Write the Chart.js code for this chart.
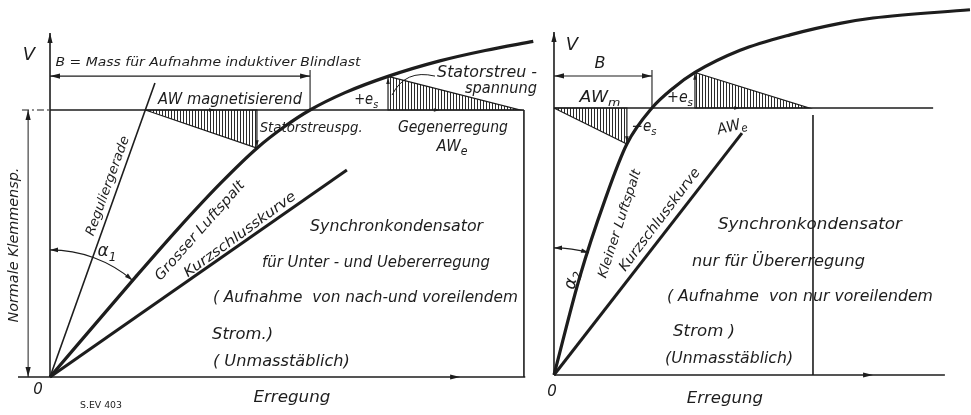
<!DOCTYPE html>
<html>
<head>
<meta charset="utf-8">
<script src="https://cdn.jsdelivr.net/npm/chart.js@4.4.1/dist/chart.umd.min.js"></script>
<style>
  body { margin: 0; background: #fff; }
  #wrap { position: relative; width: 971px; height: 415px; background: #fff; }
  canvas { position: absolute; top: 0; }
</style>
</head>
<body>
<div id="wrap">
  <canvas id="leftChart" width="540" height="415" style="left:0;width:540px;height:415px"></canvas>
  <canvas id="rightChart" width="431" height="415" style="left:540px;width:431px;height:415px"></canvas>
</div>
<script>
// units: Klemmenspannung in % of normal (100), Erregung on the same scale
const normalSpannung = 100;

// left: Grosser Luftspalt
const erregungGross = [0, 32, 48, 64, 77.5, 88, 97.4, 110.5, 126.6, 146, 163, 181];
const spannungGross = [0, 37.4, 55.6, 72.7, 85.7, 93.9, 100, 106.5, 112.6, 118.4, 122.3, 125.7];
const kurzschlussLinksX = [0, 111.2];
const kurzschlussLinksY = [0, 77.5];
const reguliergeradeX = [0, 39.3];
const reguliergeradeY = [0, 110.1];
const magnetDreieckLinksX = [35.7, 77.5, 77.5, 35.7];
const magnetDreieckLinksY = [100, 100, 85.7, 100];
const gegenDreieckLinksX = [126.6, 126.6, 176, 126.6];
const gegenDreieckLinksY = [112.6, 100, 100, 112.6];
const awEndeLinks = 177.5;
const bLinks = 97.4;

// right: Kleiner Luftspalt
const erregungKlein = [0, 9.7, 19.1, 27.3, 36.7, 44.6, 52.8, 69.7, 88.4, 107.1, 119.5, 155.8];
const spannungKlein = [0, 36.9, 65.6, 86.5, 100, 107.4, 113.3, 121.6, 127.4, 131.7, 133.7, 136.8];
const kurzschlussRechtsX = [0, 70.4];
const kurzschlussRechtsY = [0, 90.6];
const magnetDreieckRechtsX = [0, 27.3, 27.3, 0];
const magnetDreieckRechtsY = [100, 100, 86.5, 100];
const gegenDreieckRechtsX = [52.8, 52.8, 95.5, 52.8];
const gegenDreieckRechtsY = [113.3, 100, 100, 113.3];
const awEndeRechts = 97;
const bRechts = 36.7;

const INK = '#1d1d1d';
const FONT = '"DejaVu Sans", sans-serif';

function hatchPattern() {
  const c = document.createElement('canvas');
  c.width = 3; c.height = 4;
  const g = c.getContext('2d');
  g.fillStyle = '#2a2a2a';
  g.fillRect(0, 0, 1, 4);
  return g.createPattern(c, 'repeat');
}
const HATCH = hatchPattern();

function line(xs, ys, w, extra) {
  return Object.assign({
    data: xs.map((v, i) => ({ x: v, y: ys[i] })),
    showLine: true, pointRadius: 0, borderColor: INK, borderWidth: w, fill: false
  }, extra || {});
}

function arrowHead(ctx, x, y, deg, len, half) {
  const a = deg * Math.PI / 180;
  const dx = Math.cos(a), dy = -Math.sin(a);
  const bx = x - dx * len, by = y - dy * len;
  ctx.beginPath();
  ctx.moveTo(x, y);
  ctx.lineTo(bx - dy * half, by + dx * half);
  ctx.lineTo(bx + dy * half, by - dx * half);
  ctx.closePath();
  ctx.fill();
}

function drawLabel(ctx, l, px, py) {
  const size = l.size || 15;
  const style = l.upright ? '' : 'italic ';
  ctx.save();
  ctx.translate(px, py);
  if (l.rot) ctx.rotate(-l.rot * Math.PI / 180);
  ctx.font = style + size + 'px ' + FONT;
  const mainW = ctx.measureText(l.t).width;
  let subW = 0;
  if (l.sub) {
    ctx.font = style + Math.round(size * 0.72) + 'px ' + FONT;
    subW = ctx.measureText(l.sub).width;
  }
  const total = mainW + subW;
  const sx = l.w ? l.w / total : 1;
  ctx.scale(sx, 1);
  const x0 = l.align === 'left' ? 0 : -total / 2;
  ctx.fillStyle = INK;
  ctx.textBaseline = 'middle';
  ctx.textAlign = 'left';
  ctx.font = style + size + 'px ' + FONT;
  ctx.fillText(l.t, x0, 0);
  if (l.sub) {
    ctx.font = style + Math.round(size * 0.72) + 'px ' + FONT;
    ctx.fillText(l.sub, x0 + mainW, size * 0.32);
  }
  ctx.restore();
}

const decor = {
  id: 'decor',
  afterDatasetsDraw(chart, args, opts) {
    const { ctx } = chart;
    const sx = chart.scales.x, sy = chart.scales.y;
    const px = v => sx.getPixelForValue(v), py = v => sy.getPixelForValue(v);
    ctx.save();
    ctx.fillStyle = INK;
    ctx.strokeStyle = INK;
    (opts.arcs || []).forEach(a => {
      const cx = px(0), cy = py(0);
      const r = a.r * (px(1) - px(0));
      ctx.lineWidth = 1.1;
      ctx.beginPath();
      ctx.arc(cx, cy, r, -a.from * Math.PI / 180, -a.to * Math.PI / 180, false);
      ctx.stroke();
      [[a.from, a.from + 90], [a.to, a.to - 90]].forEach(([t, d]) => {
        const ta = t * Math.PI / 180;
        arrowHead(ctx, cx + r * Math.cos(ta), cy - r * Math.sin(ta), d, 8, 2.3);
      });
    });
    (opts.leaders || []).forEach(c => {
      ctx.lineWidth = 1;
      ctx.beginPath();
      ctx.moveTo(px(c[0][0]), py(c[0][1]));
      ctx.quadraticCurveTo(px(c[1][0]), py(c[1][1]), px(c[2][0]), py(c[2][1]));
      ctx.stroke();
    });
    (opts.arrows || []).forEach(a => {
      arrowHead(ctx, px(a.x), py(a.y), a.dir, a.small ? 6 : 10, a.small ? 1.8 : 2.6);
    });
    (opts.labels || []).forEach(l => drawLabel(ctx, l, px(l.x), py(l.y)));
    ctx.restore();
  }
};

function makeChart(id, frame, datasets, deco) {
  return new Chart(document.getElementById(id), {
    type: 'scatter',
    data: { datasets: datasets },
    options: {
      responsive: false,
      animation: false,
      layout: { padding: 0 },
      elements: { line: { tension: 0 } },
      scales: {
        x: { type: 'linear', min: frame.xMin, max: frame.xMax, display: false },
        y: { type: 'linear', min: frame.yMin, max: frame.yMax, display: false }
      },
      plugins: { legend: { display: false }, tooltip: { enabled: false }, decor: deco }
    },
    plugins: [decor]
  });
}

// ---------- left diagram ----------
const frameL = { xMin: -18.73, xMax: 183.52, yMin: -14.23, yMax: 141.2,
  axisTop: 128.8, axisLeft: -12, axisRight: 178, normLeft: -10.5,
  bArrowY: 112.7, bTickTop: 115, dimX: -8.2 };

makeChart('leftChart', frameL, [
  line([0, 0], [0, frameL.axisTop], 1.6),
  line([frameL.axisLeft, frameL.axisRight], [0, 0], 1.6),
  line([frameL.normLeft, 0], [normalSpannung, normalSpannung], 1.2, { borderDash: [7, 3, 2, 3] }),
  line([0, awEndeLinks], [normalSpannung, normalSpannung], 1.6),
  line([awEndeLinks, awEndeLinks], [0, normalSpannung], 1.6),
  line([0, bLinks], [frameL.bArrowY, frameL.bArrowY], 1.1),
  line([bLinks, bLinks], [normalSpannung, frameL.bTickTop], 1.1),
  line([frameL.dimX, frameL.dimX], [0, normalSpannung], 1),
  line(magnetDreieckLinksX, magnetDreieckLinksY, 1.2, { fill: 'shape', backgroundColor: HATCH }),
  line(gegenDreieckLinksX, gegenDreieckLinksY, 1.2, { fill: 'shape', backgroundColor: HATCH }),
  line(reguliergeradeX, reguliergeradeY, 1.6),
  line(kurzschlussLinksX, kurzschlussLinksY, 3),
  line(erregungGross, spannungGross, 3.2, { cubicInterpolationMode: 'monotone' })
], {
  arcs: [{ r: 47.6, from: 90, to: 49.5 }],
  leaders: [[[144.2, 112.7], [133, 115.4], [128.1, 105.6]]],
  arrows: [
    { x: 0, y: frameL.axisTop, dir: 90 },
    { x: 153.6, y: 0, dir: 0 },
    { x: 0, y: frameL.bArrowY, dir: 180 },
    { x: bLinks, y: frameL.bArrowY, dir: 0 },
    { x: frameL.dimX, y: 0, dir: -90 },
    { x: frameL.dimX, y: normalSpannung, dir: 90 },
    { x: 61.8, y: 100, dir: 0, small: true },
    { x: 146, y: 100, dir: 0, small: true },
    { x: 77.5, y: 86.4, dir: -90, small: true },
    { x: 126.6, y: 112, dir: 90, small: true }
  ],
  labels: [
    { t: 'V', x: -7.9, y: 120.6, size: 18 },
    { t: 'B = Mass für Aufnahme induktiver Blindlast', x: 59.2, y: 117.6, size: 13, w: 305 },
    { t: 'AW magnetisierend', x: 67.4, y: 103.7, size: 15, w: 144 },
    { t: 'Statorstreuspg.', x: 97.8, y: 93.3, size: 14, w: 103 },
    { t: '+e', sub: 's', x: 118.4, y: 103.7, size: 15, w: 24 },
    { t: 'Statorstreu -', x: 163.7, y: 113.9, size: 15, w: 100 },
    { t: 'spannung', x: 168.9, y: 107.9, size: 15, w: 72 },
    { t: 'Gegenerregung', x: 150.9, y: 93.3, size: 15, w: 110 },
    { t: 'AW', sub: 'e', x: 150.6, y: 86.1, size: 16, w: 31 },
    { t: 'Reguliergerade', x: 21.7, y: 71.5, rot: 70, size: 13, w: 105 },
    { t: 'Grosser Luftspalt', x: 56.2, y: 54.7, rot: 48.5, size: 14, w: 128 },
    { t: 'Kurzschlusskurve', x: 71.2, y: 53.2, rot: 36, size: 14, w: 135 },
    { t: 'α', sub: '1', x: 21.3, y: 46.8, size: 17 },
    { t: 'Normale Klemmensp.', x: -13.5, y: 49.4, rot: 90, size: 14, w: 155 },
    { t: 'Synchronkondensator', x: 97.4, y: 56.2, align: 'left', w: 173 },
    { t: 'für Unter - und Uebererregung', x: 79.4, y: 42.7, align: 'left', w: 228 },
    { t: '( Aufnahme  von nach-und voreilendem', x: 61, y: 29.6, align: 'left', w: 305 },
    { t: 'Strom.)', x: 60.7, y: 15.7, align: 'left', w: 61 },
    { t: '( Unmasstäblich)', x: 61, y: 5.6, align: 'left', w: 137 },
    { t: '0', x: -4.5, y: -4.9, size: 15 },
    { t: 'Erregung', x: 90.6, y: -7.9, size: 16, w: 77 },
    { t: 'S.EV 403', x: 19.1, y: -10.9, size: 8, w: 42, upright: true }
  ]
});

// ---------- right diagram ----------
const frameR = { xMin: -5.24, xMax: 156.18, yMin: -14.98, yMax: 140.45,
  axisTop: 128.5, axisRight: 146.4, normRight: 142,
  bArrowY: 112, bTickTop: 114.2, awTop: 97.4 };

makeChart('rightChart', frameR, [
  line([0, 0], [0, frameR.axisTop], 1.6),
  line([0, frameR.axisRight], [0, 0], 1.6),
  line([0, frameR.normRight], [normalSpannung, normalSpannung], 1.6),
  line([awEndeRechts, awEndeRechts], [0, frameR.awTop], 1.6),
  line([0, bRechts], [frameR.bArrowY, frameR.bArrowY], 1.1),
  line([bRechts, bRechts], [normalSpannung, frameR.bTickTop], 1.1),
  line(magnetDreieckRechtsX, magnetDreieckRechtsY, 1.2, { fill: 'shape', backgroundColor: HATCH }),
  line(gegenDreieckRechtsX, gegenDreieckRechtsY, 1.2, { fill: 'shape', backgroundColor: HATCH }),
  line(kurzschlussRechtsX, kurzschlussRechtsY, 3),
  line(erregungKlein, spannungKlein, 3.2, { cubicInterpolationMode: 'monotone' })
], {
  arcs: [{ r: 47.6, from: 90, to: 74 }],
  arrows: [
    { x: 0, y: frameR.axisTop, dir: 90 },
    { x: 119.5, y: 0, dir: 0 },
    { x: 0, y: frameR.bArrowY, dir: 180 },
    { x: bRechts, y: frameR.bArrowY, dir: 0 },
    { x: 69.7, y: 100, dir: 0, small: true },
    { x: 27.3, y: 87.2, dir: -90, small: true },
    { x: 52.8, y: 112.8, dir: 90, small: true }
  ],
  labels: [
    { t: 'V', x: 6.7, y: 123.6, size: 18 },
    { t: 'B', x: 17.2, y: 116.5, size: 16 },
    { t: 'AW', sub: 'm', x: 17.2, y: 103.7, size: 15, w: 41 },
    { t: '−e', sub: 's', x: 33.7, y: 92.9, size: 15, w: 25 },
    { t: '+e', sub: 's', x: 47.2, y: 103.7, size: 15, w: 26 },
    { t: 'AW', sub: 'e', x: 66.7, y: 92.9, rot: 15, size: 15, w: 30 },
    { t: 'Kleiner Luftspalt', x: 24.7, y: 56.6, rot: 72, size: 13, w: 113 },
    { t: 'Kurzschlusskurve', x: 39.7, y: 58.1, rot: 53, size: 14, w: 125 },
    { t: 'α', sub: '2', x: 6.7, y: 35.6, rot: 80, size: 17 },
    { t: 'Synchronkondensator', x: 61.4, y: 56.2, align: 'left', w: 184 },
    { t: 'nur für Übererregung', x: 51.7, y: 42.3, align: 'left', w: 173 },
    { t: '( Aufnahme  von nur voreilendem', x: 42.3, y: 29.2, align: 'left', w: 266 },
    { t: 'Strom )', x: 44.6, y: 16.1, align: 'left', w: 62 },
    { t: '(Unmasstäblich)', x: 41.6, y: 6, align: 'left', w: 128 },
    { t: '0', x: -0.7, y: -6.4, size: 15 },
    { t: 'Erregung', x: 64, y: -9, size: 16, w: 76 }
  ]
});
</script>
</body>
</html>
